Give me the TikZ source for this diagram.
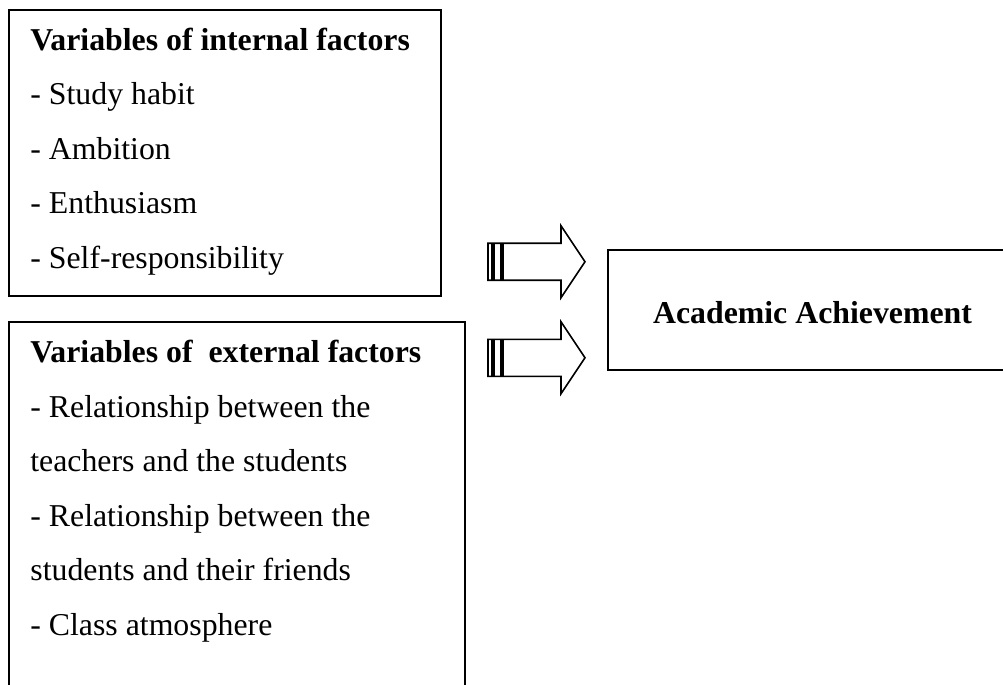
\documentclass[tikz,border=0pt]{standalone}
\usepackage{fontspec}
\setmainfont{Liberation Serif}
\usetikzlibrary{positioning}

\begin{document}
\begin{tikzpicture}[x=0.5pt,y=-0.5pt,
				box/.style={draw, line width=1pt, inner sep=0pt, outer sep=0pt, anchor=north west}
				,txt/.style={align=left, inner sep=0pt, anchor=base west, font=\fontsize{15.9}{27.25}\selectfont}
				,blockarrow/.style={draw, line width=0.8pt, fill=white}
				]
				
				\clip (0,0) rectangle (1003,685);
				
				\node[box, minimum width=216pt, minimum height=143pt] (internal) at (9,10) {};
				\node[box, minimum width=228pt, minimum height=189pt] (external) at (9,322) {};
				\node[box, minimum width=201pt, minimum height=60pt] (achieve) at (608,250) {};
				
				% anchored at the baseline of the last line
				\node[txt] (inttext) at (30,268) {\textbf{Variables of internal factors}\\
					- Study habit\\
					- Ambition\\
					- Enthusiasm\\
					- Self-responsibility};
				\node[txt] (exttext) at (30,635) {\textbf{Variables of\ \ external factors}\\
					- Relationship between the\\
					teachers and the students\\
					- Relationship between the\\
					students and their friends\\
					- Class atmosphere};
				\node[txt, anchor=base] (achtext) at (812.5,323) {\textbf{Academic Achievement}};
				
				% striped arrows
				\draw[blockarrow, shift={(0,261.7)}] (488,-18.5) rectangle (492,18.5) (494,-18.5) rectangle (501,18.5)
					(503,-18.5) -- (561,-18.5) -- (561,-36) -- (585,0) -- (561,36) -- (561,18.5) -- (503,18.5) -- cycle;
				\draw[blockarrow, shift={(0,357.8)}] (488,-18.5) rectangle (492,18.5) (494,-18.5) rectangle (501,18.5)
					(503,-18.5) -- (561,-18.5) -- (561,-36) -- (585,0) -- (561,36) -- (561,18.5) -- (503,18.5) -- cycle;
			\end{tikzpicture}
\end{document}
